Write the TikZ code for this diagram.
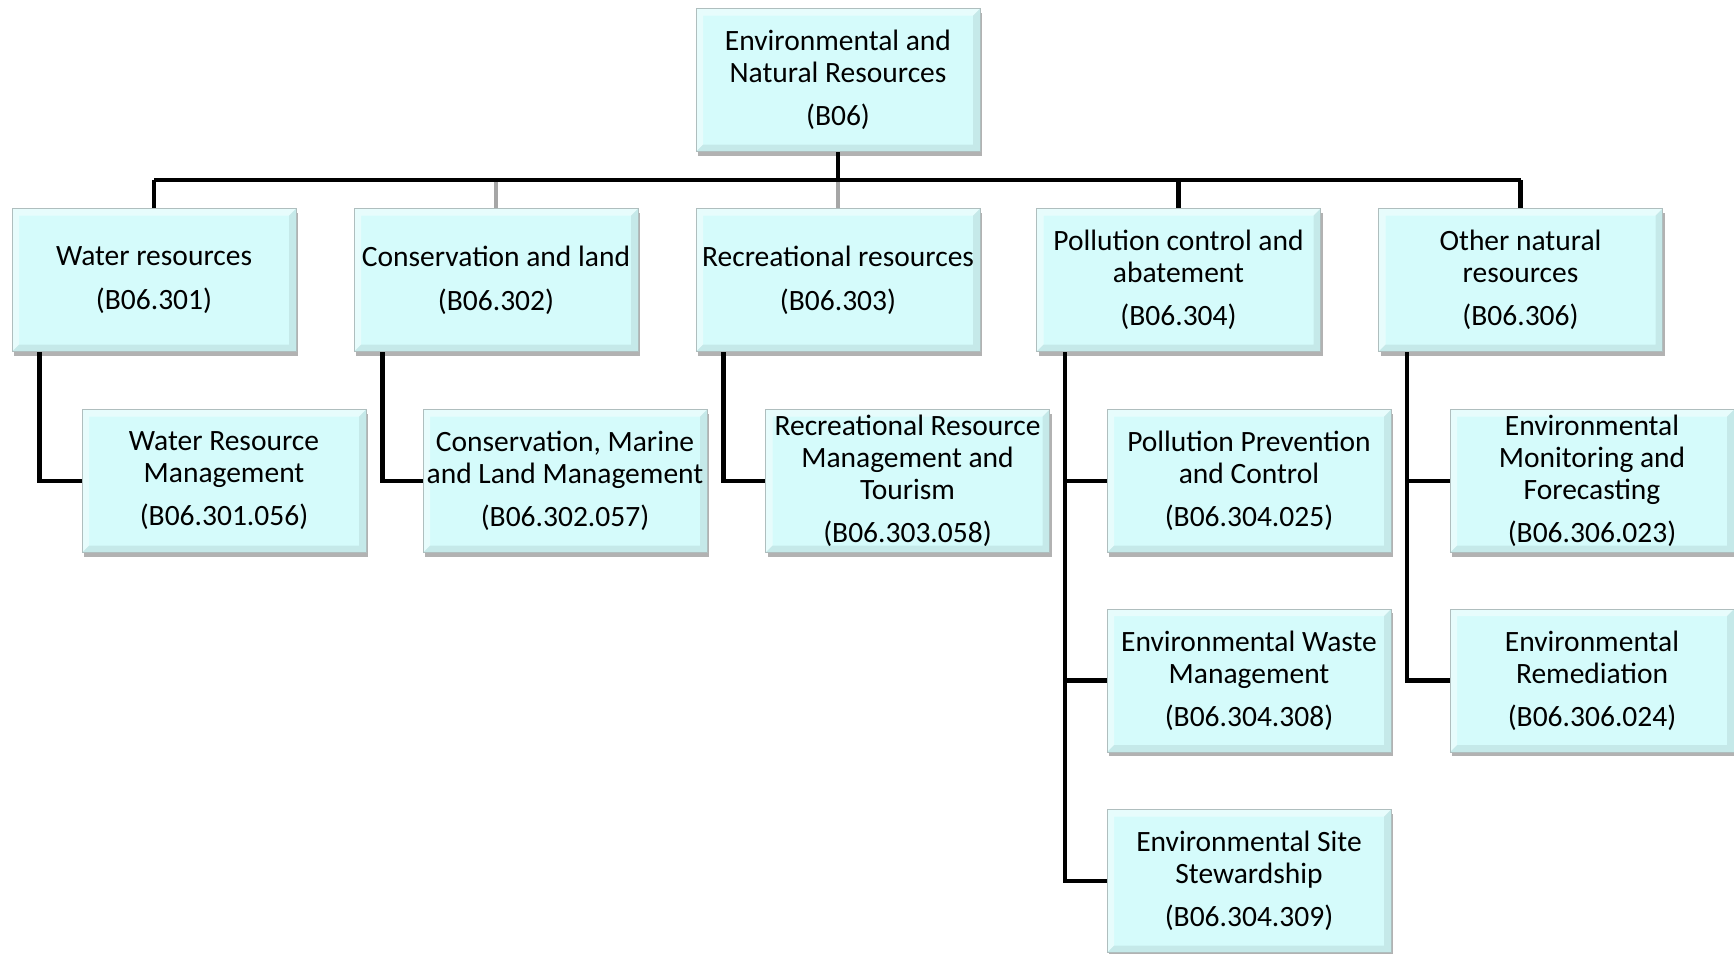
\documentclass[tikz,border=0pt]{standalone}
\usepackage{fontspec}
\setmainfont{Carlito}
\usetikzlibrary{shadows}
\definecolor{boxfill}{RGB}{213,251,251}
\definecolor{boxline}{RGB}{175,190,190}
\definecolor{greyconn}{RGB}{166,166,166}
\tikzset{
  bevel/.style={path picture={
    \coordinate (bvSW) at (path picture bounding box.south west);
    \coordinate (bvNE) at (path picture bounding box.north east);
    \fill[white, opacity=0.45] (bvSW) -- ([xshift=7pt,yshift=7pt]bvSW) -- ([xshift=7pt,yshift=-7pt]bvSW |- bvNE) -- ([xshift=-7pt,yshift=-7pt]bvNE) -- (bvNE) -- (bvSW |- bvNE) -- cycle;
    \fill[black, opacity=0.07] (bvSW) -- ([xshift=7pt,yshift=7pt]bvSW) -- ([xshift=-7pt,yshift=7pt]bvSW -| bvNE) -- ([xshift=-7pt,yshift=-7pt]bvNE) -- (bvNE) -- (bvSW -| bvNE) -- cycle;
  }},
  box/.style={draw=boxline, line width=1pt, fill=boxfill, minimum width=284pt, minimum height=143pt,
    inner sep=0pt, align=center, font=\fontsize{29.5}{32}\selectfont, bevel,
    drop shadow={shadow xshift=2pt, shadow yshift=-4pt, opacity=0.3, fill=black}},
  conn/.style={draw=black, line width=4.5pt},
  conng/.style={draw=greyconn, line width=4.5pt},
}
\begin{document}
\begin{tikzpicture}[x=1pt,y=1pt]
\useasboundingbox (0,0) rectangle (1734,-953);
% level 1
\node[box] (top) at (838,-80) {Environmental and\\Natural Resources\\[11pt](B06)};
% level 2
\node[box] (water) at (154,-280) {Water resources\\[12pt](B06.301)};
\node[box] (cons) at (496,-280) {Conservation and land\\[12pt](B06.302)};
\node[box] (rec) at (838,-280) {Recreational resources\\[12pt](B06.303)};
\node[box] (poll) at (1178.5,-280) {Pollution control and\\abatement\\[11pt](B06.304)};
\node[box] (other) at (1520.5,-280) {Other natural\\resources\\[11pt](B06.306)};
% level 3
\node[box] (wrm) at (224,-481) {Water Resource\\Management\\[11pt](B06.301.056)};
\node[box] (cml) at (565,-481) {Conservation, Marine\\and Land Management\\[11pt](B06.302.057)};
\node[box] (rrm) at (907.5,-481) {Recreational Resource\\Management and\\Tourism\\[11pt](B06.303.058)};
\node[box] (ppc) at (1249,-481) {Pollution Prevention\\and Control\\[11pt](B06.304.025)};
\node[box] (ewm) at (1249,-680.5) {Environmental Waste\\Management\\[11pt](B06.304.308)};
\node[box] (ess) at (1249,-881) {Environmental Site\\Stewardship\\[11pt](B06.304.309)};
\node[box] (emf) at (1592,-481) {Environmental\\Monitoring and\\Forecasting\\[11pt](B06.306.023)};
\node[box] (erm) at (1592,-680.5) {Environmental\\Remediation\\[11pt](B06.306.024)};
% bus
\coordinate (bus) at (0,-180);
\draw[conng] (rec.north |- bus) -- (rec.north);
\draw[conng] (cons.north |- bus) -- (cons.north);
\draw[conn] (top.south) -- (top.south |- bus);
\draw[conn] (water.north |- bus) -- (other.north |- bus);
\draw[conn] (water.north |- bus) -- (water.north);
\draw[conn] (poll.north |- bus) -- (poll.north);
\draw[conn] (other.north |- bus) -- (other.north);
% level 3 connectors
\draw[conn] ([xshift=28pt]water.south west) |- (wrm.west);
\draw[conn] ([xshift=29pt]cons.south west) |- (cml.west);
\draw[conn] ([xshift=28pt]rec.south west) |- (rrm.west);
\draw[conn] ([xshift=29pt]poll.south west) |- (ppc.west);
\draw[conn] ([xshift=29pt]poll.south west) |- (ewm.west);
\draw[conn] ([xshift=29pt]poll.south west) |- (ess.west);
\draw[conn] ([xshift=29pt]other.south west) |- (emf.west);
\draw[conn] ([xshift=29pt]other.south west) |- (erm.west);
\end{tikzpicture}
\end{document}
